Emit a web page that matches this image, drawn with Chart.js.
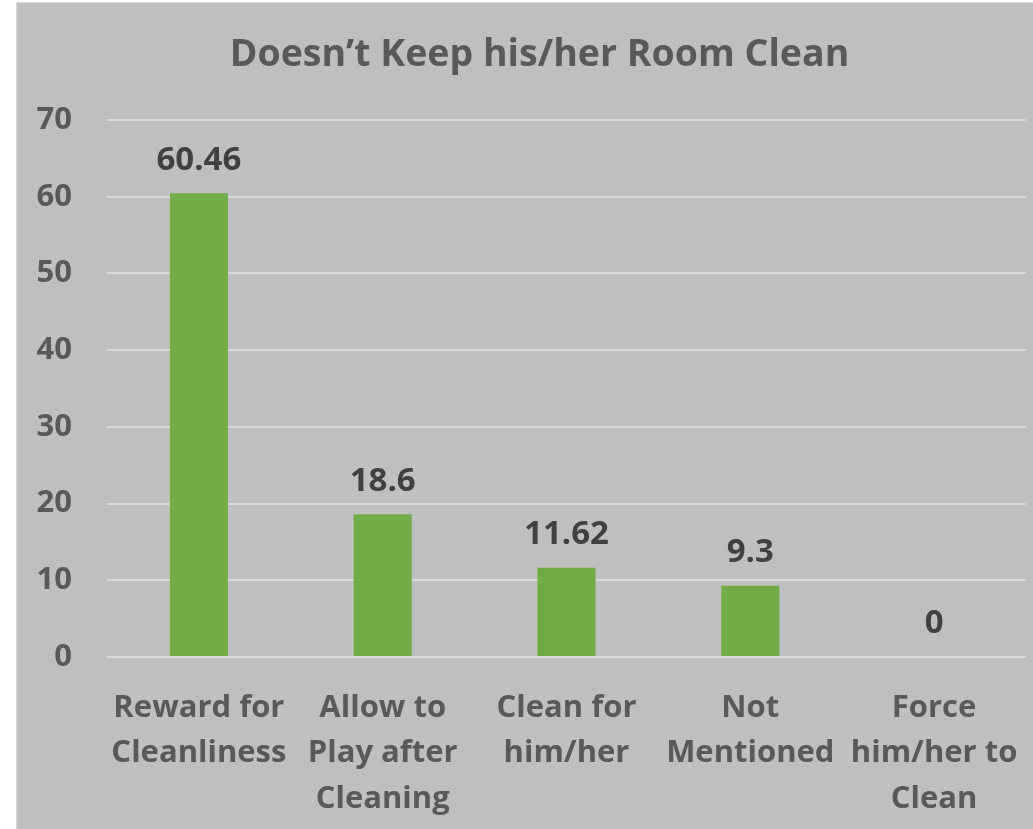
<!DOCTYPE html>
<html>
<head>
<meta charset="utf-8">
<script src="https://cdn.jsdelivr.net/npm/chart.js@4/dist/chart.umd.min.js"></script>
<style>
  html, body { margin: 0; padding: 0; background: #ffffff; }
  #wrap {
    position: absolute; left: 16px; top: 2px; width: 1016px; height: 826px;
    background: #bfbfbf; border-left: 1px solid #d9d9d9; border-top: 1px solid #d9d9d9;
  }
</style>
</head>
<body>
<div id="wrap"><canvas id="myBarChart" width="1016" height="826"></canvas></div>
<script>
var categories = [
    ['Reward for', 'Cleanliness'],
    ['Allow to', 'Play after', 'Cleaning'],
    ['Clean for', 'him/her'],
    ['Not', 'Mentioned'],
    ['Force', 'him/her to', 'Clean']
];
var values = [60.46, 18.6, 11.62, 9.3, 0];
var tickValues = [0, 10, 20, 30, 40, 50, 60, 70];

var fontFamily = '"Open Sans", Lato, sans-serif';

// draws the value above every bar
var valueLabels = {
    id: 'valueLabels',
    afterLayout: function (chart) {
        // title sits a bit right of the canvas centre
        chart.titleBlock.left += 36;
    },
    afterDatasetsDraw: function (chart) {
        var ctx = chart.ctx;
        var meta = chart.getDatasetMeta(0);
        ctx.save();
        ctx.font = 'bold 33px ' + fontFamily;
        ctx.fillStyle = '#404040';
        ctx.textAlign = 'center';
        ctx.textBaseline = 'middle';
        meta.data.forEach(function (bar, i) {
            ctx.fillText(String(values[i]), bar.x, bar.y - 33);
        });
        ctx.restore();
    }
};

const config = {
    type: 'bar',
    data: {
        labels: categories,
        datasets: [{
            data: values,
            backgroundColor: '#70ad47',
            barPercentage: 0.316,
            categoryPercentage: 1
        }]
    },
    options: {
        responsive: false,
        animation: false,
        layout: { padding: { left: 0, right: 7, top: 0, bottom: 0 } },
        plugins: {
            legend: { display: false },
            tooltip: { enabled: false },
            title: {
                display: true,
                text: 'Doesn\u2019t Keep his/her Room Clean',
                color: '#595959',
                font: { family: fontFamily, size: 37.5, weight: 'bold' },
                padding: { top: 30, bottom: 42 }
            }
        },
        scales: {
            x: {
                grid: { display: false, drawTicks: false },
                border: { display: false },
                ticks: {
                    color: '#595959',
                    font: { family: fontFamily, size: 31, weight: 'bold', lineHeight: 1.47 },
                    padding: 28,
                    maxRotation: 0,
                    autoSkip: false
                },
                afterFit: function (scale) {
                    scale.height = 172;
                    // long last label should not shrink the plot
                    scale.paddingLeft = 0;
                    scale.paddingRight = 0;
                }
            },
            y: {
                min: 0,
                max: 70,
                afterBuildTicks: function (scale) {
                    scale.ticks = tickValues.map(function (v) { return { value: v }; });
                },
                grid: { color: '#d9d9d9', lineWidth: 2, drawTicks: false },
                border: { display: false },
                ticks: {
                    color: '#595959',
                    font: { family: fontFamily, size: 31, weight: 'bold' },
                    padding: 35
                },
                afterFit: function (scale) { scale.width = 90; }
            }
        }
    },
    plugins: [valueLabels]
};

const myBarChart = new Chart(document.getElementById('myBarChart'), config);
</script>
</body>
</html>
